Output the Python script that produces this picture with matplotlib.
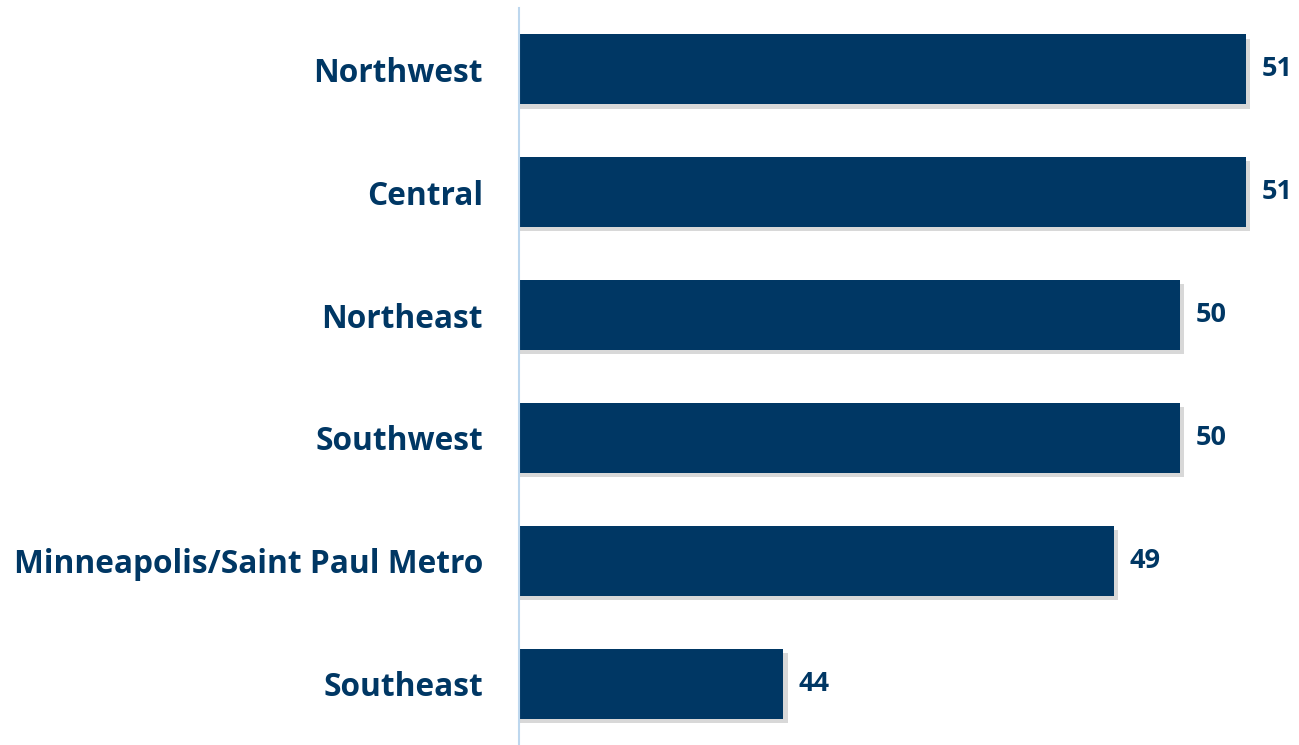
import matplotlib.pyplot as plt
import matplotlib.patheffects as pe

regions = ['Northwest', 'Central', 'Northeast', 'Southwest',
           'Minneapolis/Saint Paul Metro', 'Southeast']
values = [51, 51, 50, 50, 49, 44]

navy = '#003764'

fig = plt.figure(figsize=(12.99, 7.45), dpi=100)
ax = fig.add_axes([519 / 1299, 0, 780 / 1299, 737 / 745])

ypos = list(range(len(regions)))
bars = ax.barh(ypos, values, height=0.57, color=navy, left=0)
for b in bars:
    b.set_path_effects([pe.SimplePatchShadow(offset=(3, -3), shadow_rgbFace='#909090', alpha=0.35),
                        pe.Normal()])

ax.set_xlim(40, 40 + 780 / 66.1)
ax.set_ylim(len(regions) - 0.5, -0.5)

# value labels
for y, v in zip(ypos, values):
    ax.text(v + 0.23, y, str(v), va='center', ha='left', fontsize=19.5,
            fontweight='bold', color=navy, family='Open Sans')

ax.set_yticks(ypos)
ax.set_yticklabels(regions, fontsize=22.8, fontweight='bold', color=navy, family='Open Sans')
ax.tick_params(axis='y', length=0, pad=26)
ax.set_xticks([])

for s in ['top', 'right', 'bottom']:
    ax.spines[s].set_visible(False)
ax.spines['left'].set_color('#BDD7EE')
ax.spines['left'].set_linewidth(1.5)

fig.savefig('out.png', dpi=100)
